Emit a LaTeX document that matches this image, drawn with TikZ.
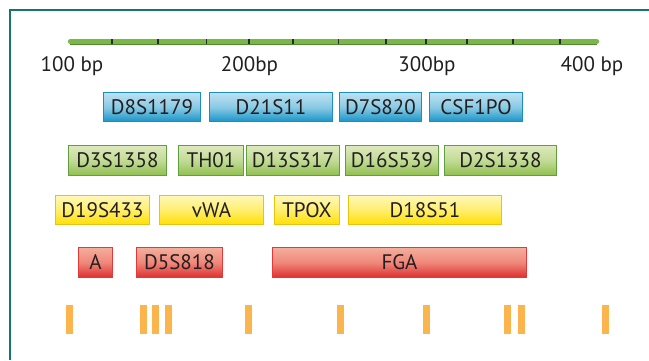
\documentclass[tikz,border=0pt]{standalone}
\usepackage{fontspec}
\setmainfont{PT Sans}
\definecolor{frameteal}{HTML}{17756F}
\definecolor{axisgreen}{HTML}{7AB648}
\definecolor{axisdark}{HTML}{4F8A32}
\definecolor{tickcol}{HTML}{2A2A2A}
\definecolor{txt}{HTML}{231F20}
\definecolor{blueTop}{HTML}{BCE1F2}
\definecolor{blueBot}{HTML}{1895C8}
\definecolor{blueDraw}{HTML}{1E8DBF}
\definecolor{greenTop}{HTML}{DDEABC}
\definecolor{greenBot}{HTML}{8EBF4C}
\definecolor{greenDraw}{HTML}{5F9F40}
\definecolor{yellowTop}{HTML}{FFF8B8}
\definecolor{yellowBot}{HTML}{FFE000}
\definecolor{yellowDraw}{HTML}{E6C412}
\definecolor{redTop}{HTML}{F5AE9C}
\definecolor{redBot}{HTML}{DF2E2E}
\definecolor{redDraw}{HTML}{E23A3A}
\definecolor{orangebar}{HTML}{FBB54C}
\newcommand{\strbox}[7]{%
  \node[#1, minimum width=#4-#3, minimum height=#6-#5, anchor=north west] (#2) at (#3,#5) {#7};}
\begin{document}
\begin{tikzpicture}[x=1pt, y=-1pt,
  lab/.style={font=\fontsize{21}{24}\selectfont, text=txt, inner sep=0pt},
  basebox/.style={draw, line width=1pt, inner sep=0pt, font=\fontsize{21}{24}\selectfont, text=txt},
  bluebox/.style={basebox, draw=blueDraw, top color=blueTop, bottom color=blueBot, middle color=blueTop!70!blueBot},
  greenbox/.style={basebox, draw=greenDraw, top color=greenTop, bottom color=greenBot, middle color=greenTop!65!greenBot},
  yellowbox/.style={basebox, draw=yellowDraw, top color=yellowTop, bottom color=yellowBot, middle color=yellowTop!60!yellowBot},
  redbox/.style={basebox, draw=redDraw, top color=redTop, bottom color=redBot, middle color=redTop!70!redBot},
  tickmark/.style={draw=tickcol, line width=1.4pt},
  orangemark/.style={fill=orangebar}
]
\useasboundingbox (0,0) rectangle (649,360);
\fill[white] (0,0) rectangle (649,360);
% frame
\draw[frameteal, line width=2.2pt] (10,360) -- (10,10) -- (649,10);
% axis
\draw[axisgreen, line width=5.5pt, line cap=round] (70.5,41.6) -- (596.5,41.6);
\draw[axisdark, line width=0.9pt] (70,44) -- (597,44);
\foreach \t in {112,158,206.5,249,293,338.5,386,426,467,513,560}
  \draw[tickmark] (\t,39) -- (\t,44.4);
\node[lab] (l100) at (72,66) {100 bp};
\node[lab] (l200) at (249.5,66) {200bp};
\node[lab] (l300) at (427,66) {300bp};
\node[lab] (l400) at (592,66) {400 bp};
% row 1
\strbox{bluebox}{d8}{103}{200}{92}{121}{D8S1179}
\strbox{bluebox}{d21}{209}{332}{92}{121}{D21S11}
\strbox{bluebox}{d7}{339}{421}{92}{121}{D7S820}
\strbox{bluebox}{csf}{429}{522}{92}{121}{CSF1PO}
% row 2
\strbox{greenbox}{d3}{68}{166}{145}{175}{D3S1358}
\strbox{greenbox}{th}{178}{243}{145}{175}{TH01}
\strbox{greenbox}{d13}{246}{339}{145}{175}{D13S317}
\strbox{greenbox}{d16}{345}{438}{145}{175}{D16S539}
\strbox{greenbox}{d2}{444}{556}{145}{175}{D2S1338}
% row 3
\strbox{yellowbox}{d19}{55}{149}{195}{224}{D19S433}
\strbox{yellowbox}{vwa}{159}{263}{195}{224}{vWA}
\strbox{yellowbox}{tpox}{274}{339}{195}{224}{TPOX}
\strbox{yellowbox}{d18}{348}{501}{195}{224}{D18S51}
% row 4
\strbox{redbox}{amel}{78}{112}{247}{277}{A}
\strbox{redbox}{d5}{136}{222}{247}{277}{D5S818}
\strbox{redbox}{fga}{272}{526}{247}{277}{FGA}
% orange marks
\foreach \o in {66,140,152,165,244.6,337,423,504,517.5,602}
  \fill[orangemark] (\o,305) rectangle (\o+7,334);
\end{tikzpicture}
\end{document}
